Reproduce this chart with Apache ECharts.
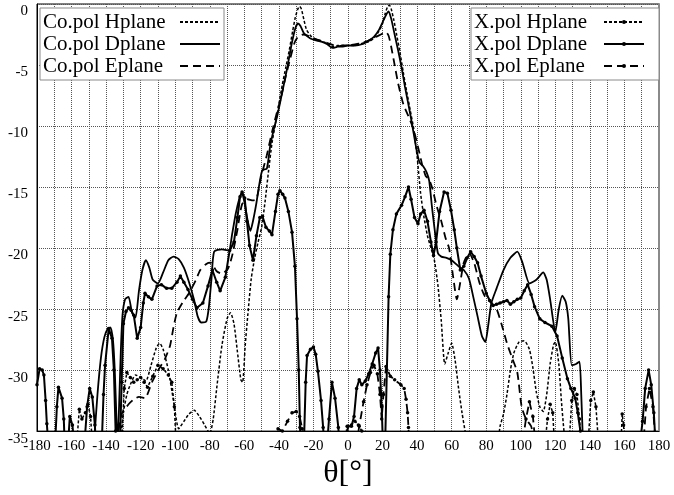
<!DOCTYPE html>
<html>
<head>
<meta charset="utf-8">
<script src="https://cdn.jsdelivr.net/npm/echarts@6/dist/echarts.min.js"></script>
<style>
  html,body{margin:0;padding:0;background:#fff;}
  #chart{width:674px;height:495px;}
</style>
</head>
<body>
<div id="chart"></div>
<script>
// ticks
var xTicks = [-180,-160,-140,-120,-100,-80,-60,-40,-20,0,20,40,60,80,100,120,140,160,180];
var yTicks = [0,-5,-10,-15,-20,-25,-30,-35];

// Co.pol Hplane  [theta, dB]
var coH = [[-132,-36],[-130,-33.5],[-128,-32],[-126,-31.2],[-123,-30.4],[-120,-30.6],[-117,-30.9],[-114,-29.6],[-111,-28.2],[-109,-27.8],[-107,-28.3],[-104,-30],[-101,-32.5],[-98,-34.8],[-95,-34.2],[-92,-33.6],[-89,-33.3],[-86,-33.8],[-83,-34.5],[-80,-35.2],[-78,-34],[-76,-31.5],[-73,-28],[-70,-25.8],[-68,-25.3],[-66,-26.2],[-64,-28.5],[-62,-30.8],[-61,-31],[-59.5,-28],[-58,-25.5],[-56,-22.5],[-54,-20.8],[-52,-19.5],[-50,-18.3],[-48,-16.2],[-46,-13.7],[-44,-11.4],[-42,-9.8],[-40,-8.2],[-38,-6.6],[-36,-5.2],[-34,-3.8],[-32,-2.2],[-30.5,-1.1],[-29,-0.4],[-28,-0.2],[-27,-0.4],[-25.5,-1.3],[-24,-2.1],[-21,-2.7],[-18,-2.9],[-15,-3.1],[-12,-3.2],[-9,-3.5],[-6,-3.4],[-3,-3.4],[0,-3.4],[3,-3.4],[6,-3.3],[9,-3.2],[12,-3.1],[15,-2.8],[18,-2.2],[20,-1.6],[21.5,-0.8],[23,-0.2],[24,-0.1],[25,-0.4],[26.5,-1.3],[28,-2.4],[30,-3.9],[32,-5.6],[34,-7.2],[36,-8.7],[38,-10.2],[40,-12.5],[42,-15.5],[44,-17.5],[46,-19],[48,-20],[50,-21],[52,-23],[54,-26],[56,-29.5],[58,-28.6],[60,-27.8],[62,-29.2],[64,-31.5],[66,-33.5],[68,-35.2],[69,-36],[86,-36],[88,-34.6],[90,-33.6],[92,-32],[94,-30],[96,-28.6],[99,-27.7],[102,-27.6],[105,-28.3],[107,-29.8],[109,-31.8],[111,-33],[113,-33.4],[115,-32],[117,-29.5],[119,-27.9],[120,-27.7],[122,-29.5],[123.5,-32.5],[125,-35],[126,-36]];

// Co.pol Dplane
var coD = [[-147,-36],[-145,-32],[-143,-29],[-141,-27.3],[-139,-26.6],[-137.5,-26.5],[-136,-27.6],[-135,-30],[-134,-34],[-133.3,-36],[-132.5,-33],[-131.5,-28.5],[-130.5,-25.5],[-129,-24.2],[-127,-24],[-125,-25.3],[-123,-25.7],[-121,-23.5],[-119,-21.8],[-117,-21],[-115,-21.6],[-113,-22.6],[-110,-22.9],[-107,-22],[-104,-21],[-101,-20.7],[-98,-20.9],[-95,-21.6],[-92,-22.8],[-89,-24.3],[-87,-25.6],[-85,-26.1],[-82,-26],[-80.5,-24.8],[-79,-22.5],[-77.5,-20.3],[-73,-20.1],[-69,-20.2],[-67,-18.8],[-65,-17.2],[-63,-16],[-61.5,-15.5],[-60,-16.2],[-58,-17.8],[-56.5,-18.6],[-55,-17.8],[-53,-16.3],[-51,-14.5],[-49.5,-13.6],[-47,-13.5],[-45,-11.6],[-43,-10.3],[-41,-9.2],[-38,-7.2],[-35,-5.1],[-32.5,-3.2],[-30.5,-2],[-29,-1.6],[-27.5,-1.8],[-25.5,-2.4],[-22,-2.8],[-18,-3],[-15,-3.1],[-12,-3.3],[-9,-3.6],[-6,-3.5],[-3,-3.4],[0,-3.4],[4,-3.4],[8,-3.3],[12,-3],[15,-2.7],[18,-2.1],[20,-1.5],[22,-0.9],[23.5,-0.6],[25,-1.2],[27,-2.5],[29,-3.8],[31,-5.2],[33,-6.8],[36,-9],[38,-10.6],[40,-12.2],[41.5,-13],[43.5,-13.3],[45.5,-13.8],[47,-14.5],[48.5,-16.5],[50,-18.3],[52,-20.4],[54,-20.7],[57,-20.8],[60,-21],[64,-21.5],[67,-21.8],[70,-22.5],[72.5,-24],[75,-25.6],[77.5,-27.2],[79.5,-27.7],[81,-26.5],[83,-24.5],[86,-23.3],[90,-21.8],[94,-20.8],[98,-20.3],[101,-21.2],[105,-22.9],[109,-22.6],[113,-22],[115,-22.6],[117,-24.2],[120,-26.9],[122,-25],[124,-23.9],[126,-24.4],[127.5,-25.8],[129.5,-29.6],[132,-29.5],[134,-29.3],[135,-32],[136,-36]];

// Co.pol Eplane
var coE = [[-134,-36],[-131,-33.6],[-127,-32.8],[-124,-32.4],[-121,-32.2],[-117.5,-32.3],[-113.5,-31],[-109,-29.8],[-106,-29.1],[-103,-28],[-101,-26.5],[-99,-25.3],[-95,-24.3],[-92,-23.7],[-88,-22.6],[-85.5,-21.8],[-82,-21.3],[-79.5,-21.2],[-76,-21.9],[-73,-22.1],[-69.5,-21.7],[-67,-20.6],[-64,-18.5],[-61.3,-16.4],[-58,-16],[-55,-16.1],[-53,-16],[-50,-14],[-47,-12.4],[-44,-10.5],[-41,-8.8],[-39,-7.8],[-36,-5.9],[-33.5,-4.5],[-31,-3.2],[-29,-2.7],[-26,-2.5],[-23,-2.6],[-20,-2.8],[-16,-3],[-12,-3.2],[-8,-3.4],[-4,-3.5],[0,-3.4],[4,-3.3],[8,-3.2],[12,-3],[16,-2.7],[19,-2.5],[22,-2.3],[23.5,-2.6],[25,-3.5],[27,-5],[29,-6.5],[32,-8.2],[35,-9.2],[38,-10.3],[41,-12],[43,-13.2],[45,-14.1],[47,-14.4],[49,-15.2],[51,-16.4],[54,-17.8],[56.5,-19.2],[58.5,-20],[61,-22.5],[63,-24.2],[65,-22.8],[67,-21.2],[70,-20.4],[73,-21.2],[76,-22.8],[79,-23.9],[83,-24.5],[86,-25],[89,-26.3],[92,-27.8],[95,-29],[98,-30.2],[100.5,-33],[103,-34],[106,-34.6],[108,-36]];

// X.pol Hplane
var xH = [[-157,-36],[-155.5,-33.2],[-154,-34],[-152,-33.5],[-150.5,-32.8],[-149,-33.8],[-148,-36],[-131,-36],[-129.5,-31.5],[-128,-30.2],[-126,-30.6],[-124,-31],[-122,-30.8],[-120,-30.6],[-118,-31],[-116,-31.4],[-113,-30.5],[-110,-29.6],[-107,-29.9],[-104,-30.4],[-102,-31],[-100.5,-33],[-99.5,-36],[-2,-36],[-0.5,-34.6],[2,-34.5],[4,-34.2],[6,-34.5],[8,-35],[9,-36],[114,-36],[115.5,-34],[117,-32.8],[118.5,-33.5],[119.5,-36],[128,-36],[129.5,-32.5],[131,-31.5],[132.5,-32],[134,-34],[135,-36],[139,-36],[140.5,-32.5],[142,-31.8],[143.5,-33],[145,-36],[158,-36],[158.7,-33.6],[159.5,-34.5],[160,-36]];

// X.pol Dplane
var xD = [[-180,-31.2],[-178.5,-29.9],[-177,-30],[-176,-30.4],[-175,-32.5],[-174.3,-34.4],[-173.5,-36],[-169.5,-36],[-168.5,-33],[-167.6,-31.4],[-165.5,-32.3],[-164.5,-34],[-164,-36],[-162,-36],[-161,-33.8],[-159.5,-34.5],[-158.5,-36],[-152.5,-36],[-151,-33],[-149.5,-31.5],[-148,-32.2],[-146.5,-34.5],[-146,-36],[-142.5,-36],[-141.5,-32],[-140.6,-29.6],[-138.5,-26.6],[-136.6,-27.4],[-135.5,-30],[-134.5,-35],[-134,-36],[-132,-36],[-131,-31],[-130,-26.2],[-128.5,-25.2],[-127,-24.9],[-125.5,-25.1],[-124,-25.5],[-122,-27.4],[-120,-26.5],[-118.5,-24.5],[-117.5,-23.7],[-115.5,-24],[-113.5,-24.2],[-110.5,-23.1],[-108,-23],[-105,-23.3],[-102,-23.3],[-99,-22.8],[-97,-22.3],[-95,-22.8],[-92.6,-23.4],[-90,-24.2],[-87.4,-24.9],[-84,-24.5],[-81,-23.1],[-78.5,-21.8],[-76,-22.8],[-74,-23.5],[-71,-22.4],[-68.5,-20.2],[-66,-19.5],[-64,-17.5],[-62.5,-15.8],[-61.3,-15.4],[-59.8,-15.9],[-58.5,-17.8],[-57,-19.8],[-55,-21],[-53,-19],[-51,-17.5],[-49.5,-17.4],[-47.5,-18.3],[-45.5,-18.6],[-44,-18.9],[-42,-17],[-40.5,-15.6],[-39.4,-15.3],[-37.8,-15.6],[-36.5,-15.9],[-34.5,-17],[-32.4,-18.7],[-30.7,-21.5],[-29.5,-25.8],[-28.5,-30],[-27.8,-34.7],[-27.3,-36],[-25.5,-36],[-24.5,-31],[-23.7,-28.8],[-21.7,-28.3],[-20,-28.1],[-18.7,-28.7],[-17.4,-30.1],[-15.6,-32.5],[-14.4,-34.7],[-13.8,-36],[-12,-36],[-11,-34],[-9.3,-31],[-7.5,-32.3],[-5.6,-34.7],[-5,-36],[-1,-36],[0,-34.6],[2,-34.6],[3.5,-33.8],[5,-31.5],[6.5,-30.8],[8,-31.2],[10,-30.9],[12,-30.3],[14,-29.5],[16,-28.6],[17.4,-28.2],[18.5,-30],[19.5,-33],[20.2,-36],[21.5,-36],[22.5,-30],[23.5,-24],[24.5,-20.5],[26,-18.5],[28,-17.2],[31,-16.5],[33,-15.8],[35,-15],[36.5,-16],[38.5,-17.5],[40.5,-18],[42,-17.2],[44,-16.9],[46,-17.8],[48,-19.5],[49.5,-20.6],[51,-19.5],[53,-17],[55.6,-15.4],[57.5,-15.5],[59.6,-16.9],[61.5,-18.5],[63,-20],[65,-21.8],[67,-21.5],[69,-20.8],[71,-20.3],[73,-20.7],[75,-21.2],[77,-22.3],[80,-23.7],[82,-24.3],[84,-24.7],[86,-24.6],[88,-24.5],[90,-24.4],[92,-24.3],[94,-24.6],[96,-24.4],[98,-24.2],[100,-24.1],[102,-23.5],[104,-23],[106,-23.8],[108,-24.8],[111,-25.8],[114,-26.1],[118,-26.4],[121,-27.2],[124,-29],[127,-30.7],[129,-31.5],[131.5,-32.3],[133,-33.5],[134.5,-35],[135,-36],[169,-36],[170.5,-34.2],[172,-31.5],[174,-30],[175.5,-31.2],[177,-33.5],[178,-36],[180,-36]];

// X.pol Eplane
var xE = [[-42,-36],[-40.5,-34.8],[-38,-35],[-35,-34.2],[-32.4,-33.5],[-30,-33.4],[-28,-33.8],[-26.5,-34.8],[-26,-36],[5,-36],[6.5,-34.6],[9,-32.6],[11,-31.2],[13,-30.2],[15,-29.6],[17,-30.3],[18.5,-32],[19.5,-34],[20.5,-32],[22,-29.7],[24.5,-30.5],[27,-30.8],[30.6,-31.2],[32.5,-31.5],[33.6,-32.4],[34.5,-33.5],[35,-34.7],[35.3,-36],[101,-36],[103,-34],[105,-32.6],[107,-33.8],[108.5,-36],[171,-36],[172.5,-33],[174.5,-31.5],[176.5,-33],[178,-36]];

var FONT = '"Liberation Serif", "Times New Roman", serif';

var mkLine = function (name, data, dash, dots, w) {
	return {
		name: name,
		type: 'line',
		data: data,
		clip: true,
		smooth: dots ? false : 0.2,
		symbol: 'circle',
		symbolSize: dots ? 3.5 : 0,
		showSymbol: dots,
		itemStyle: {color: '#000'},
		lineStyle: {color: '#000', width: w, type: dash},
		emphasis: {disabled: true},
		animation: false
	};
};

// legend item, symbol hidden for Co.pol
var legItem = function (name, dots) {
	return dots ? {name: name} : {name: name, itemStyle: {opacity: 0}};
};

var legendBase = function (left, tw, padR, names, dots) {
	return {
		orient: 'vertical',
		align: 'right',
		left: left,
		top: 8,
		itemWidth: 40,
		itemHeight: 5,
		itemGap: 0,
		padding: [3, padR, 3, 3],
		borderColor: '#8a8a8a',
		borderWidth: 1,
		backgroundColor: '#fff',
		formatter: '{t|{name}}',
		textStyle: {
			fontFamily: FONT, fontSize: 21, color: '#000', lineHeight: 22, padding: [0, 8, 0, 0],
			rich: {t: {width: tw, align: 'left', fontFamily: FONT, fontSize: 21, color: '#000', lineHeight: 22}}
		},
		data: names.map(function (n) { return legItem(n, dots); })
	};
};

var myChart = echarts.init(document.getElementById('chart'), null, {renderer: 'canvas'});
var option = {
	backgroundColor: '#fff',
	animation: false,
	grid: {left: 37, right: 15, top: 4, bottom: 58, show: true, borderColor: '#000', borderWidth: 1},
	legend: [
		legendBase(40, 124, 3, ['Co.pol Hplane', 'Co.pol Dplane', 'Co.pol Eplane'], false),
		legendBase(471, 117, 14, ['X.pol Hplane', 'X.pol Dplane', 'X.pol Eplane'], true)
	],
	xAxis: {
		type: 'value',
		min: -180,
		max: 180,
		interval: 10,
		name: 'θ[°]',
		nameLocation: 'middle',
		nameGap: 16,
		nameTextStyle: {fontFamily: FONT, fontSize: 32, color: '#000', verticalAlign: 'top'},
		axisLine: {onZero: false, lineStyle: {color: '#000', width: 1}},
		axisTick: {show: false},
		axisLabel: {
			fontFamily: FONT, fontSize: 15, color: '#000', margin: 7,
			formatter: function (v) { return xTicks.indexOf(v) >= 0 ? String(v) : ''; }
		},
		splitLine: {show: true, lineStyle: {color: '#555', type: 'dotted', width: 1}}
	},
	yAxis: [{
		type: 'value',
		min: -35,
		max: 0,
		interval: 5,
		axisLine: {show: true, onZero: false, lineStyle: {color: '#000', width: 1}},
		axisTick: {show: false},
		axisLabel: {
			fontFamily: FONT, fontSize: 15, color: '#000', margin: 9, verticalAlign: 'top',
			formatter: function (v) { return yTicks.indexOf(v) >= 0 ? String(v) : ''; }
		},
		splitLine: {show: true, lineStyle: {color: '#555', type: 'dotted', width: 1}}
	}, {
		type: 'value',
		position: 'right',
		min: -35,
		max: 0,
		interval: 5,
		axisLine: {show: true, onZero: false, lineStyle: {color: '#8a8a8a', width: 2}},
		axisTick: {show: false},
		axisLabel: {show: false},
		splitLine: {show: false}
	}],
	series: [
		mkLine('Co.pol Hplane', coH, [3, 2], false, 1.5),
		mkLine('Co.pol Dplane', coD, 'solid', false, 1.8),
		mkLine('Co.pol Eplane', coE, [8, 5], false, 1.8),
		mkLine('X.pol Hplane', xH, [3, 2], true, 1.5),
		mkLine('X.pol Dplane', xD, 'solid', true, 2),
		mkLine('X.pol Eplane', xE, [8, 5], true, 1.8)
	]
};
myChart.setOption(option);
</script>
</body>
</html>
